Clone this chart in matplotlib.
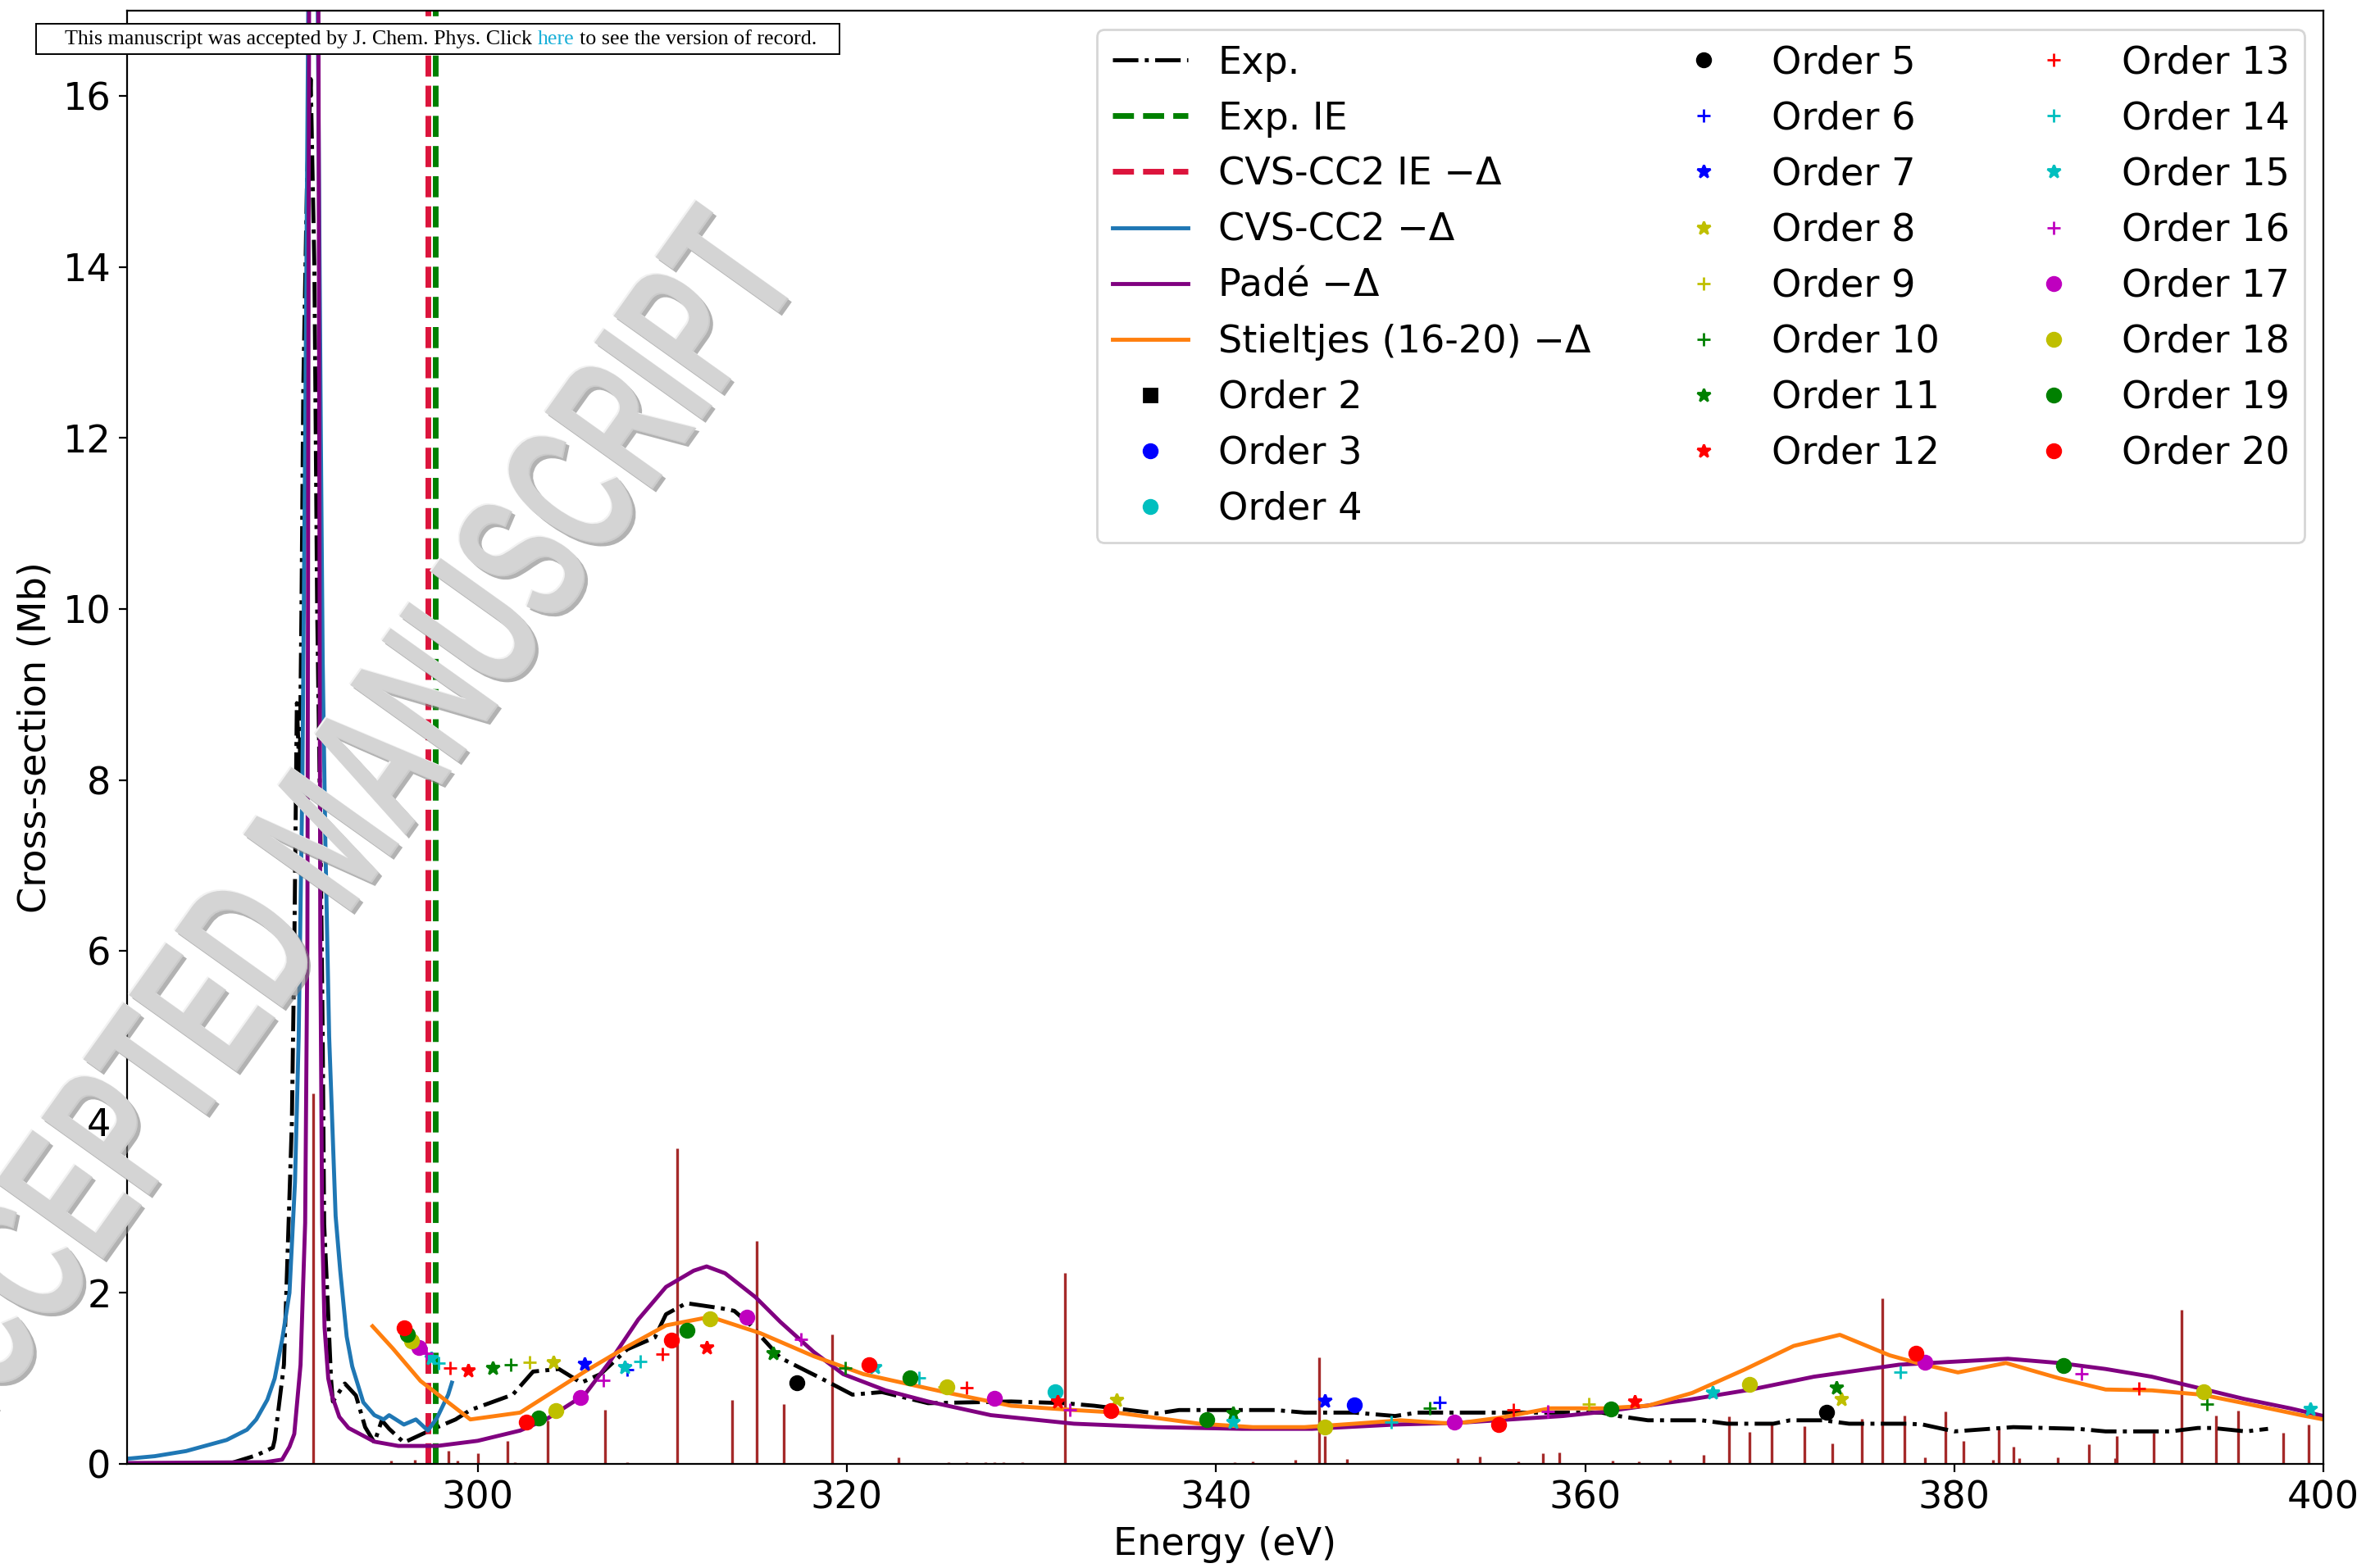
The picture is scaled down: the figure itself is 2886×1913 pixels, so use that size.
import matplotlib
matplotlib.use("Agg")
import matplotlib.pyplot as plt
import matplotlib.patheffects as pe
from matplotlib.textpath import TextPath
from matplotlib.patches import PathPatch, Rectangle
from matplotlib.font_manager import FontProperties
from matplotlib.transforms import Affine2D, IdentityTransform

plt.rcParams['font.size'] = 16.6

# ---------------------------------------------------------------
# data
# ---------------------------------------------------------------
exp_x = [286.5, 288.0, 288.9, 289.0, 289.5, 289.75, 289.93, 290.06, 290.2, 290.35,
         290.45, 290.55, 290.75, 290.95, 291.15, 291.3, 291.5, 291.6, 291.68, 291.85,
         292.05, 292.15, 292.8, 293.4, 293.9, 294.4, 294.8, 295.2, 296.0, 297.0,
         297.6, 298.8, 299.6, 301.9, 303.0, 304.4, 305.6, 306.65, 308.1, 309.6,
         310.2, 311.3, 313.2, 313.9, 314.8, 316.4, 318.7, 320.3, 321.9, 324.4,
         328.9, 331.8, 333.4, 336.8, 338.0, 343.2, 344.8, 347.5, 349.7, 350.9,
         357.7, 360.9, 361.8, 363.4, 366.3, 367.7, 370.2, 371.1, 372.9, 374.3,
         377.5, 378.3, 380.0, 383.2, 386.7, 388.2, 391.7, 393.2, 394.0, 395.8, 397.0]
exp_y = [0.0, 0.1, 0.19, 0.28, 1.16, 2.8, 4.0, 6.0, 8.9, 8.0,
         10.0, 12.6, 15.0, 16.2, 14.0, 10.0, 7.0, 5.0, 2.8, 2.0,
         1.0, 0.73, 0.94, 0.8, 0.43, 0.25, 0.51, 0.41, 0.25, 0.35,
         0.41, 0.52, 0.63, 0.81, 1.08, 1.11, 0.95, 1.05, 1.34, 1.48,
         1.75, 1.88, 1.82, 1.79, 1.62, 1.24, 0.99, 0.81, 0.84, 0.71,
         0.73, 0.71, 0.68, 0.59, 0.63, 0.63, 0.60, 0.60, 0.56, 0.60,
         0.60, 0.60, 0.56, 0.51, 0.51, 0.47, 0.47, 0.51, 0.51, 0.47,
         0.47, 0.46, 0.38, 0.43, 0.41, 0.38, 0.38, 0.42, 0.42, 0.38, 0.41]

exp_ie = 297.7
cc2_ie = 297.3

cc2_x = [281.0, 282.5, 284.2, 286.4, 287.5, 288.0, 288.6, 289.0, 289.4, 289.8,
         290.1, 290.3, 290.5, 290.65, 290.85, 291.3, 291.5, 291.6, 291.75, 291.95,
         292.3, 292.55, 292.9, 293.2, 293.8, 294.4, 294.9, 295.2, 296.0, 296.65,
         297.3, 297.8, 298.4, 298.6]
cc2_y = [0.06, 0.09, 0.15, 0.28, 0.40, 0.52, 0.75, 1.0, 1.45, 2.0,
         3.3, 5.0, 8.0, 12.0, 18.0, 18.0, 12.0, 9.4, 7.2, 5.0,
         2.9, 2.26, 1.49, 1.14, 0.72, 0.57, 0.52, 0.57, 0.46, 0.52,
         0.39, 0.54, 0.81, 0.95]

pade_x = [281.0, 288.5, 289.4, 289.8, 290.06, 290.4, 290.65, 290.77, 290.87, 291.36,
          291.47, 291.57, 291.7, 291.9, 292.1, 292.5, 293.0, 294.4, 295.7, 297.8,
          300.0, 302.3, 303.7, 305.8, 307.2, 308.7, 310.2, 311.7, 312.4, 313.4,
          315.05, 316.4, 318.2, 319.8, 322.1, 324.4, 327.8, 332.3, 336.8, 341.4,
          345.2, 349.7, 353.1, 358.8, 361.0, 365.6, 369.0, 372.4, 377.0, 379.5,
          382.9, 385.7, 388.2, 390.7, 393.2, 395.7, 398.2, 400.0]
pade_y = [0.01, 0.02, 0.05, 0.2, 0.35, 1.16, 2.82, 6.1, 18.0, 18.0,
          6.1, 2.82, 1.6, 1.0, 0.8, 0.55, 0.42, 0.26, 0.21, 0.21,
          0.27, 0.39, 0.52, 0.81, 1.21, 1.69, 2.07, 2.26, 2.31, 2.23,
          1.95, 1.66, 1.31, 1.05, 0.86, 0.73, 0.57, 0.47, 0.43, 0.41,
          0.41, 0.46, 0.48, 0.56, 0.61, 0.75, 0.87, 1.02, 1.16, 1.19,
          1.23, 1.18, 1.11, 1.02, 0.89, 0.76, 0.65, 0.56]

stj_x = [294.3, 295.4, 296.9, 299.6, 302.3, 305.8, 308.0, 310.2, 312.6, 315.3,
         318.2, 320.9, 325.5, 328.9, 332.3, 334.6, 339.1, 342.0, 344.8, 347.5,
         350.0, 352.9, 355.4, 358.1, 361.0, 363.4, 365.8, 368.6, 371.3, 373.8,
         376.5, 378.0, 380.2, 382.8, 385.7, 388.2, 390.7, 393.4, 395.7, 398.8, 400.0]
stj_y = [1.61, 1.35, 0.97, 0.52, 0.60, 1.08, 1.36, 1.62, 1.72, 1.53,
         1.26, 1.05, 0.83, 0.68, 0.63, 0.60, 0.47, 0.43, 0.43, 0.47,
         0.51, 0.47, 0.54, 0.65, 0.65, 0.68, 0.83, 1.10, 1.38, 1.51,
         1.27, 1.18, 1.07, 1.18, 1.00, 0.87, 0.86, 0.81, 0.71, 0.57, 0.52]

stick_x = [291.1, 295.3, 296.6, 298.4, 298.9, 300.0, 301.6, 302.0, 303.8, 306.9,
           308.1, 310.8, 313.8, 315.1, 316.6, 319.2, 322.8, 325.5, 326.5, 327.5,
           328.0, 328.5, 329.5, 331.8, 341.0, 342.0, 344.3, 345.6, 345.9, 347.1,
           353.1, 354.3, 356.4, 357.7, 358.6, 361.5, 362.9, 364.6, 366.4, 367.8,
           368.9, 370.1, 371.9, 373.4, 375.0, 376.1, 377.3, 378.4, 379.5, 380.5,
           382.1, 382.4, 383.2, 383.5, 385.6, 387.3, 388.7, 388.8, 390.8, 392.3,
           394.2, 395.4, 397.8, 399.2]
stick_h = [4.33, 0.04, 0.05, 0.15, 0.04, 0.12, 0.27, 0.02, 0.51, 0.63,
           0.02, 3.69, 0.75, 2.61, 0.70, 1.51, 0.08, 0.02, 0.02, 0.02,
           0.02, 0.02, 0.02, 2.23, 0.02, 0.03, 0.05, 1.25, 0.33, 0.06,
           0.07, 0.09, 0.03, 0.12, 0.13, 0.04, 0.03, 0.05, 0.11, 0.56,
           0.37, 0.49, 0.44, 0.24, 0.53, 1.94, 0.57, 0.08, 0.61, 0.27,
           0.05, 0.42, 0.20, 0.07, 0.08, 0.23, 0.07, 0.33, 0.36, 1.80,
           0.57, 0.62, 0.36, 0.46]

# Stieltjes points for each order: (energy, cross-section)
order_x = {
    2: [],
    3: [347.5],
    4: [331.3],
    5: [317.3, 373.1],
    6: [308.1, 352.1],
    7: [305.8, 345.9],
    8: [304.1, 334.6, 373.9],
    9: [302.8, 325.3, 360.2],
    10: [301.8, 319.9, 351.6, 393.7],
    11: [300.8, 316.0, 340.9, 373.6],
    12: [299.5, 312.4, 331.4, 362.7],
    13: [298.5, 310.0, 326.5, 356.1, 390.0],
    14: [297.9, 308.8, 323.9, 349.5, 377.1],
    15: [297.5, 307.96, 321.5, 340.9, 366.9, 399.3],
    16: [297.2, 306.8, 317.5, 332.1, 358.0, 386.9],
    17: [296.8, 305.55, 314.6, 328.0, 352.9, 378.4],
    18: [296.4, 304.25, 312.6, 325.4, 345.9, 368.9, 393.5],
    19: [296.2, 303.3, 311.35, 323.4, 339.5, 361.4, 385.9],
    20: [296.0, 302.65, 310.5, 321.2, 334.3, 355.3, 377.9],
}
order_y = {
    2: [],
    3: [0.69],
    4: [0.84],
    5: [0.95, 0.60],
    6: [1.10, 0.72],
    7: [1.17, 0.74],
    8: [1.19, 0.75, 0.76],
    9: [1.19, 0.90, 0.70],
    10: [1.16, 1.12, 0.65, 0.70],
    11: [1.12, 1.29, 0.59, 0.89],
    12: [1.09, 1.36, 0.73, 0.73],
    13: [1.12, 1.28, 0.89, 0.63, 0.88],
    14: [1.18, 1.20, 1.01, 0.49, 1.07],
    15: [1.24, 1.13, 1.13, 0.49, 0.83, 0.64],
    16: [1.29, 0.98, 1.46, 0.63, 0.61, 1.05],
    17: [1.36, 0.78, 1.72, 0.77, 0.49, 1.19],
    18: [1.44, 0.62, 1.70, 0.90, 0.43, 0.93, 0.84],
    19: [1.51, 0.54, 1.56, 1.01, 0.52, 0.64, 1.15],
    20: [1.59, 0.49, 1.45, 1.16, 0.62, 0.46, 1.29],
}
order_fmt = {2: 'ks', 3: 'bo', 4: 'co', 5: 'ko', 6: 'b+', 7: 'b*', 8: 'y*',
             9: 'y+', 10: 'g+', 11: 'g*', 12: 'r*', 13: 'r+', 14: 'c+',
             15: 'c*', 16: 'm+', 17: 'mo', 18: 'yo', 19: 'go', 20: 'ro'}

# ---------------------------------------------------------------
# figure
# ---------------------------------------------------------------
W, H = 2886, 1913
LW = 1.75
fig = plt.figure(figsize=(W / 200, H / 200), dpi=200)
ax = fig.add_axes([0.0537, 0.0664, 0.9283, 0.9268])

ax.vlines(stick_x, 0, stick_h, color='brown', lw=1.2, zorder=1)
ax.plot(exp_x, exp_y, 'k-.', lw=LW, label='Exp.')
ax.axvline(exp_ie, color='green', ls='--', lw=2.5, label='Exp. IE')
ax.axvline(cc2_ie, color='crimson', ls='--', lw=2.5, label='CVS-CC2 IE −Δ')
ax.plot(cc2_x, cc2_y, color='tab:blue', lw=LW, label='CVS-CC2 −Δ')
ax.plot(pade_x, pade_y, color='purple', lw=LW, label='Padé −Δ')
ax.plot(stj_x, stj_y, color='tab:orange', lw=LW, label='Stieltjes (16-20) −Δ')
for n in range(2, 21):
    ax.plot(order_x[n], order_y[n], order_fmt[n], ls='none', label=f'Order {n}')

ax.set_xlim(281, 400)
ax.set_ylim(0, 17)
ax.set_xticks([300, 320, 340, 360, 380, 400])
ax.set_yticks(range(0, 17, 2))
ax.set_xlabel('Energy (eV)')
ax.set_ylabel('Cross-section (Mb)')
ax.legend(loc='upper right', ncol=3)

# watermark
fp = FontProperties(family='Liberation Sans', weight='bold')
tp = TextPath((0, 0), 'ACCEPTED MANUSCRIPT', size=235, prop=fp)
bb = tp.get_extents()
sx = 1790 / bb.width
tr = (Affine2D().translate(-(bb.x0 + bb.x1) / 2, -(bb.y0 + bb.y1) / 2)
      .scale(sx, 1.0).rotate_deg(54.5).translate(395, H - 1020))
wm = PathPatch(tr.transform_path(tp), transform=IdentityTransform(),
               fc='#cdcdcd', ec='none', alpha=0.8, zorder=50)
wm.set_path_effects([
    pe.withSimplePatchShadow(offset=(1.4, -1.4), shadow_rgbFace='#808080', alpha=0.6),
    pe.SimplePatchShadow(offset=(-0.6, 0.6), shadow_rgbFace='#f2f2f2', alpha=1.0),
    pe.Normal()])
fig.add_artist(wm)

# banner at the top
fig.add_artist(Rectangle((44, H - 66), 980, 37, transform=IdentityTransform(),
                         fc='white', ec='black', lw=0.7, zorder=60))
renderer = fig.canvas.get_renderer()
part1 = 'This manuscript was accepted by J. Chem. Phys. Click'
part2 = 'here'
part3 = 'to see the version of record.'
probe = fig.text(0, 0, part1 + ' ' + part2 + ' ' + part3, family='Liberation Serif', size=10)
fs = 10 * 916 / probe.get_window_extent(renderer).width
probe.remove()
sp_a = fig.text(0, 0, 'a a', family='Liberation Serif', size=fs)
sp_b = fig.text(0, 0, 'aa', family='Liberation Serif', size=fs)
space = sp_a.get_window_extent(renderer).width - sp_b.get_window_extent(renderer).width
sp_a.remove()
sp_b.remove()
x = 79
yb = H - 48
for txt, col in [(part1, 'black'), (part2, '#1ab0d8'), (part3, 'black')]:
    t = fig.text(x / W, yb / H, txt, family='Liberation Serif', size=fs,
                 color=col, va='center', ha='left', zorder=61)
    x += t.get_window_extent(renderer).width + space

fig.savefig('out.png', dpi=200)
